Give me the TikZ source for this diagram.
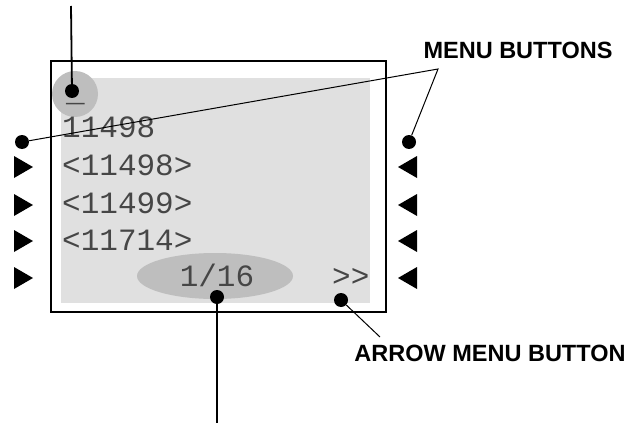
\documentclass[tikz,border=0pt]{standalone}
\usepackage{fontspec}
\newfontfamily\monofont{Liberation Mono}
\newfontfamily\labelfont{Liberation Sans}
\usetikzlibrary{shapes.geometric, positioning}
\definecolor{screengray}{RGB}{224,224,224}
\definecolor{spotgray}{RGB}{190,190,190}
\definecolor{lcdtext}{RGB}{70,70,70}

\tikzset{
  lcd/.style={font=\monofont\fontsize{31}{31}\selectfont, text=lcdtext, inner sep=0pt, anchor=base west},
  callout/.style={font=\labelfont\bfseries\fontsize{23.5}{23.5}\selectfont, inner sep=0pt},
  dot/.style={circle, fill=black, inner sep=0pt, minimum size=14pt},
  leader/.style={line width=1.8pt},
}

\begin{document}
\begin{tikzpicture}[x=1pt, y=-1pt]
  \useasboundingbox (0,0) rectangle (631,425);

  % display frame and screen
  \node[draw, line width=2pt, inner sep=0pt, minimum width=335pt, minimum height=251pt, anchor=north west] (frame) at (50,60) {};
  \node[fill=screengray, inner sep=0pt, minimum width=309pt, minimum height=225pt, anchor=north west] (screen) at (61,78) {};
  \node[circle, fill=spotgray, inner sep=0pt, minimum size=46pt] (cursorspot) at (75,94) {};
  \node[ellipse, fill=spotgray, inner sep=0pt, minimum width=156pt, minimum height=46pt] (pagespot) at (215,276) {};

  % screen text
  \node[lcd, anchor=base] (cursor) at (75.5,102) {\_};
  \node[lcd] (row0) at (62,137) {11498};
  \node[lcd] (row1) at (62,175) {<11498>};
  \node[lcd] (row2) at (62,213) {<11499>};
  \node[lcd] (row3) at (62,250) {<11714>};
  \node[lcd, anchor=base] (page) at (217,286) {1/16};
  \node[lcd] (more) at (332,286) {>\kern0pt>};

  % soft keys
  \foreach \y in {167,205,241,278} {
    \fill (14,\y-11) -- (33,\y) -- (14,\y+11) -- cycle;
    \fill (417,\y-11) -- (398,\y) -- (417,\y+11) -- cycle;
  }

  % callouts
  \node[dot] (cursordot) at (72,91) {};
  \coordinate (cursortip) at (71,6);
  \draw[leader] (cursortip) -- (cursordot);

  \node[dot] (menuleft) at (22,142) {};
  \node[dot] (menuright) at (409,142) {};
  \node[callout] (menulabel) at (518,50) {MENU BUTTONS};
  \coordinate (menuapex) at (438,69);
  \draw[line width=1pt] (menuleft) -- (menuapex) -- (menuright);

  \node[dot] (arrowdot) at (341,300) {};
  \node[callout] (arrowlabel) at (490,353) {ARROW MENU BUTTON};
  \coordinate (arrowtip) at (380,337);
  \draw[line width=1pt] (arrowdot) -- (arrowtip);

  \node[dot] (pagedot) at (217,297) {};
  \coordinate (pagetip) at (217,423);
  \draw[leader] (pagedot) -- (pagetip);
\end{tikzpicture}
\end{document}
